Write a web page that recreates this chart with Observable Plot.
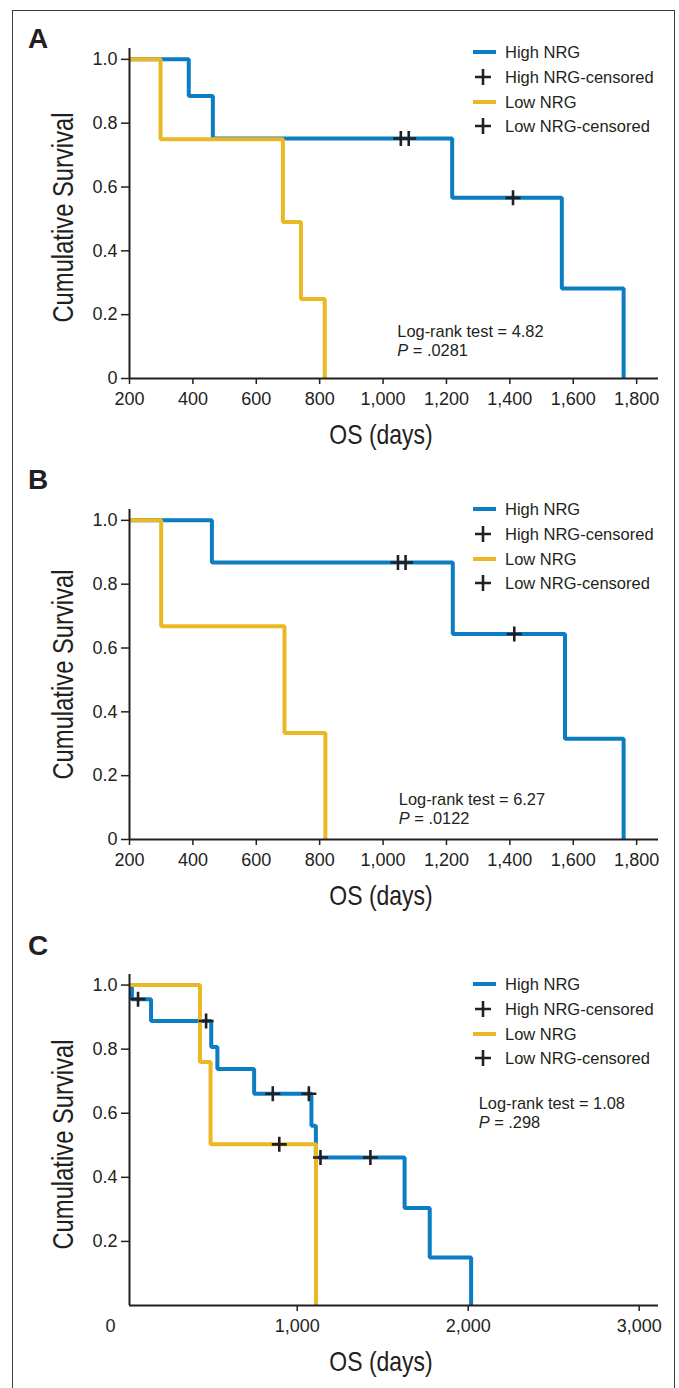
<!DOCTYPE html>
<html><head><meta charset="utf-8">
<script src="https://cdn.jsdelivr.net/npm/d3@7"></script>
<script src="https://cdn.jsdelivr.net/npm/@observablehq/plot@0.6"></script>
<style>
body{margin:0;background:#fff;}
#root{position:relative;width:679px;height:1388px;overflow:hidden;background:#fff;color:#231f20;font-family:"Liberation Sans",Arial,sans-serif;}
.abs{position:absolute;white-space:nowrap;}
.frame{position:absolute;left:12px;top:10px;width:663px;height:1420px;border:1.4px solid #3c3c3c;box-sizing:border-box;}
.letter{font-weight:bold;font-size:28px;line-height:28px;}
.narrow{font-family:"Liberation Sans",Arial,sans-serif;}
.lr{font-size:16.4px;line-height:18.7px;}
.leg{font-size:16.5px;line-height:24px;height:24px;display:flex;align-items:center;}
svg.plot{position:absolute;left:0;}
</style></head><body><div id="root"><div class="frame"></div></div>
<script>
// ---------- data ----------
const seriesNames = ["High NRG", "High NRG-censored", "Low NRG", "Low NRG-censored"];
const panelLetters = ["A", "B", "C"];
const logRankValues = ["4.82", "6.27", "1.08"];
const pValues = [".0281", ".0122", ".298"];

// Panel A
const aHighDays = [200, 387, 463, 1218, 1564, 1759];
const aHighSurv = [1, 0.885, 0.752, 0.566, 0.282, 0];
const aLowDays = [200, 298, 684, 741, 816];
const aLowSurv = [1, 0.75, 0.49, 0.249, 0];
const aCensDays = [1056, 1081, 1410];
const aCensSurv = [0.752, 0.752, 0.566];

// Panel B
const bHighDays = [200, 460, 1220, 1574, 1759];
const bHighSurv = [1, 0.868, 0.644, 0.316, 0];
const bLowDays = [200, 300, 689, 818];
const bLowSurv = [1, 0.668, 0.334, 0];
const bCensDays = [1047, 1071, 1414];
const bCensSurv = [0.868, 0.868, 0.644];

// Panel C
const cHighDays = [0, 33, 145, 497, 533, 748, 1083, 1109, 1628, 1775, 2017];
const cHighSurv = [1, 0.956, 0.888, 0.807, 0.738, 0.661, 0.561, 0.462, 0.304, 0.150, 0];
const cLowDays = [0, 431, 493, 1110];
const cLowSurv = [1, 0.76, 0.503, 0];
const cCensDays = [69, 467, 857, 1068, 1136, 1428, 895];
const cCensSurv = [0.956, 0.888, 0.661, 0.661, 0.462, 0.462, 0.503];

// ticks
const xTicksAB = [200, 400, 600, 800, 1000, 1200, 1400, 1600, 1800];
const xTicksC = [1000, 2000, 3000];
const yTicksAB = [0, 0.2, 0.4, 0.6, 0.8, 1.0];
const yTicksC = [0.2, 0.4, 0.6, 0.8, 1.0];

// ---------- styles / layout ----------
const highColor = "#0b7dc3";
const lowColor = "#e9b824";
const ink = "#231f20";

const cross = {
  draw(ctx, size) {
    const r = Math.sqrt(size / Math.PI);
    ctx.moveTo(-r, 0); ctx.lineTo(r, 0);
    ctx.moveTo(0, -r); ctx.lineTo(0, r);
  }
};

const panels = [
  {top: 0, height: 460, mt: 48, mb: 82, xDomain: [200, 1869], yTop: 1.034, xTicks: xTicksAB, yTicks: yTicksAB,
   high: [aHighDays, aHighSurv], low: [aLowDays, aLowSurv], cens: [aCensDays, aCensSurv],
   letterTop: 25.3, ylabCy: 217.5, xlabBase: 445, legTop: 52.3, lrLeft: 397.3, lrBase: 337.3, origin: false},
  {top: 460, height: 460, mt: 49, mb: 81, xDomain: [200, 1869], yTop: 1.034, xTicks: xTicksAB, yTicks: yTicksAB,
   high: [bHighDays, bHighSurv], low: [bLowDays, bLowSurv], cens: [bCensDays, bCensSurv],
   letterTop: 466, ylabCy: 674, xlabBase: 905.5, legTop: 509.3, lrLeft: 398.8, lrBase: 805, origin: false},
  {top: 920, height: 468, mt: 54, mb: 83, xDomain: [19, 3113], yTop: 1.033, xTicks: xTicksC, yTicks: yTicksC,
   high: [cHighDays, cHighSurv], low: [cLowDays, cLowSurv], cens: [cCensDays, cCensSurv],
   letterTop: 931.8, ylabCy: 1144, xlabBase: 1372, legTop: 984.3, lrLeft: 478.7, lrBase: 1109, origin: true}
];

const root = document.getElementById("root");
const toRows = ([d, s]) => d.map((t, i) => ({t, s: s[i]}));

function el(cls, style, html) {
  const e = document.createElement("div");
  e.className = "abs " + cls;
  Object.assign(e.style, style);
  e.innerHTML = html;
  root.appendChild(e);
  return e;
}

// baseline offset inside a line box for Liberation Sans
const baseOff = (fs, lh) => (lh - 1.117 * fs) / 2 + 0.905 * fs;

panels.forEach((p, k) => {
  const marks = [
    Plot.axisX({ticks: p.xTicks, tickFormat: d3.format(","), tickSize: 6, tickPadding: 8, strokeWidth: 1.5, label: null}),
    Plot.axisY({ticks: p.yTicks, tickFormat: d => d === 0 ? "0" : d.toFixed(1), tickSize: 8, tickPadding: 4, strokeWidth: 1.5, label: null}),
    Plot.line(toRows(p.high), {x: "t", y: "s", curve: "step-after", stroke: highColor, strokeWidth: 4, strokeLinejoin: "miter", strokeLinecap: "butt", clip: true}),
    Plot.line(toRows(p.low), {x: "t", y: "s", curve: "step-after", stroke: lowColor, strokeWidth: 4, strokeLinejoin: "miter", strokeLinecap: "butt", clip: true}),
    Plot.ruleY([0], {stroke: ink, strokeWidth: 2}),
    Plot.ruleX([p.xDomain[0]], {stroke: ink, strokeWidth: 2}),
    Plot.dot(toRows(p.cens), {x: "t", y: "s", symbol: cross, r: 7.5, fill: "none", stroke: ink, strokeWidth: 2.6})
  ];
  if (p.origin) {
    marks.push(Plot.text([{t: p.xDomain[0], s: 0}], {x: "t", y: "s", text: () => "0", dx: -19, dy: 14, lineAnchor: "top", fill: ink, fontSize: 18}));
  }
  const svg = Plot.plot({
    width: 679, height: p.height,
    marginLeft: 129, marginRight: 21, marginTop: p.mt, marginBottom: p.mb,
    x: {domain: p.xDomain},
    y: {domain: [0, p.yTop]},
    style: {fontFamily: '"Liberation Sans", Arial, sans-serif', fontSize: "18px", color: ink, background: "transparent", overflow: "visible"},
    marks
  });
  svg.style.top = p.top + "px";
  root.appendChild(svg);

  // panel letter
  el("letter", {left: "28px", top: p.letterTop + "px"}, panelLetters[k]);
  // y label (condensed via horizontal scaling, then rotated)
  el("narrow", {left: (62.6 - 150) + "px", top: (p.ylabCy - 14.5) + "px", width: "300px", textAlign: "center",
    fontSize: "29px", lineHeight: "29px", transform: "rotate(-90deg) scaleX(0.82)"}, "Cumulative Survival");
  // x label
  el("narrow", {left: (381 - 200) + "px", top: (p.xlabBase - baseOff(28, 28)) + "px", width: "400px", textAlign: "center",
    fontSize: "28px", lineHeight: "28px", transform: "scaleX(0.82)"}, "OS (days)");
  // log-rank
  el("lr", {left: p.lrLeft + "px", top: (p.lrBase - 15) + "px"},
     "Log-rank test = " + logRankValues[k] + "<br><i>P</i> = " + pValues[k]);
  // legend
  const sw = [
    `<svg width="32" height="24"><rect x="0" y="10" width="23" height="4" fill="${highColor}"/></svg>`,
    `<svg width="32" height="24"><path d="M2,12H18M10,4V20" stroke="${ink}" stroke-width="2.6" fill="none"/></svg>`,
    `<svg width="32" height="24"><rect x="0" y="10" width="23" height="4" fill="${lowColor}"/></svg>`,
    `<svg width="32" height="24"><path d="M2,12H18M10,4V20" stroke="${ink}" stroke-width="2.6" fill="none"/></svg>`
  ];
  seriesNames.forEach((name, i) => {
    el("leg", {left: "473px", top: (p.legTop + i * 24.7 - 12) + "px"}, sw[i] + `<span>${name}</span>`);
  });
});
</script></body></html>
